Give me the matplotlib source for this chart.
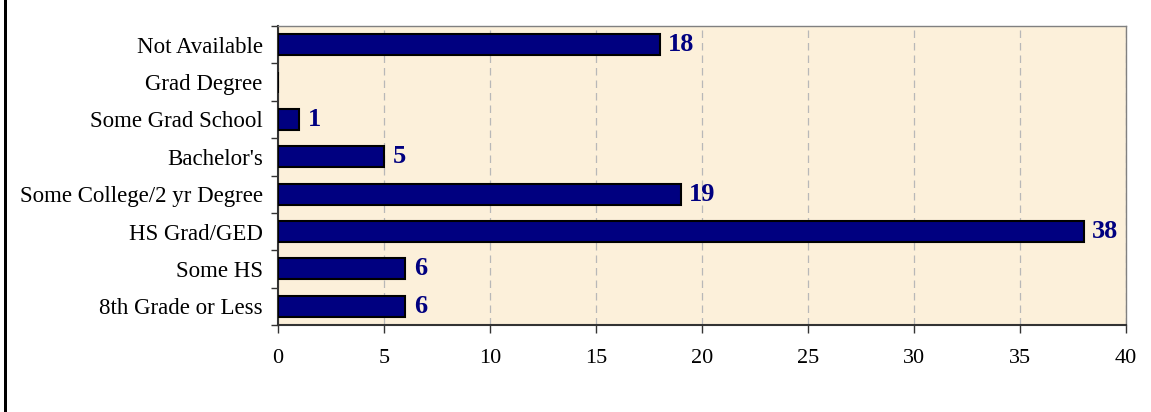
import matplotlib.pyplot as plt
import numpy as np
from matplotlib.patches import Rectangle

# Education levels, bottom to top
categorias = ['8th Grade or Less', 'Some HS', 'HS Grad/GED', 'Some College/2 yr Degree',
              "Bachelor's", 'Some Grad School', 'Grad Degree', 'Not Available']
valores = [6, 6, 38, 19, 5, 1, 0, 18]
ticks_x = [0, 5, 10, 15, 20, 25, 30, 35, 40]

plt.rcParams['font.family'] = ['Liberation Serif', 'DejaVu Serif']

fig = plt.figure(figsize=(11.51, 4.12), dpi=100)
ax = fig.add_axes([278 / 1151, 1 - 325 / 412, (1126 - 278) / 1151, (325 - 26) / 412])
ax.set_facecolor('#fcf0da')

# Marco negro a la izquierda de la figura
fig.add_artist(Rectangle((5 / 1151, -0.01), 0, 1.02, transform=fig.transFigure,
                         edgecolor='black', linewidth=2, fill=False))

y = np.arange(len(categorias))
ax.barh(y, valores, height=0.56, color='#000080', edgecolor='black', linewidth=1.5, zorder=3)

for yi, v in zip(y, valores):
    if v > 0:
        ax.text(v + 0.4, yi, str(v), va='center', ha='left', fontsize=19,
                fontweight='bold', color='#000080', zorder=4)

ax.set_xlim(0, 40)
ax.set_ylim(-0.5, len(categorias) - 0.5)
ax.set_xticks(ticks_x)
ax.set_xticklabels([str(t) for t in ticks_x], fontsize=16)
ax.set_yticks(y)
ax.set_yticklabels(categorias, fontsize=16.5)
ax.set_yticks(np.arange(len(categorias) + 1) - 0.5, minor=True)
ax.tick_params(axis='y', which='major', length=0, pad=11)
ax.tick_params(axis='y', which='minor', length=5, width=1, color='#333333')
ax.tick_params(axis='x', which='major', length=6, width=1, color='#333333', pad=11)

ax.grid(axis='x', linestyle=(0, (6, 4)), color='#b8b8b8', linewidth=0.9, zorder=1)
for s in ['left', 'bottom']:
    ax.spines[s].set_color('#333333')
    ax.spines[s].set_linewidth(1.5)
for s in ['top', 'right']:
    ax.spines[s].set_color('#808080')
    ax.spines[s].set_linewidth(1)

fig.savefig('out.png', dpi=100, facecolor='white')
